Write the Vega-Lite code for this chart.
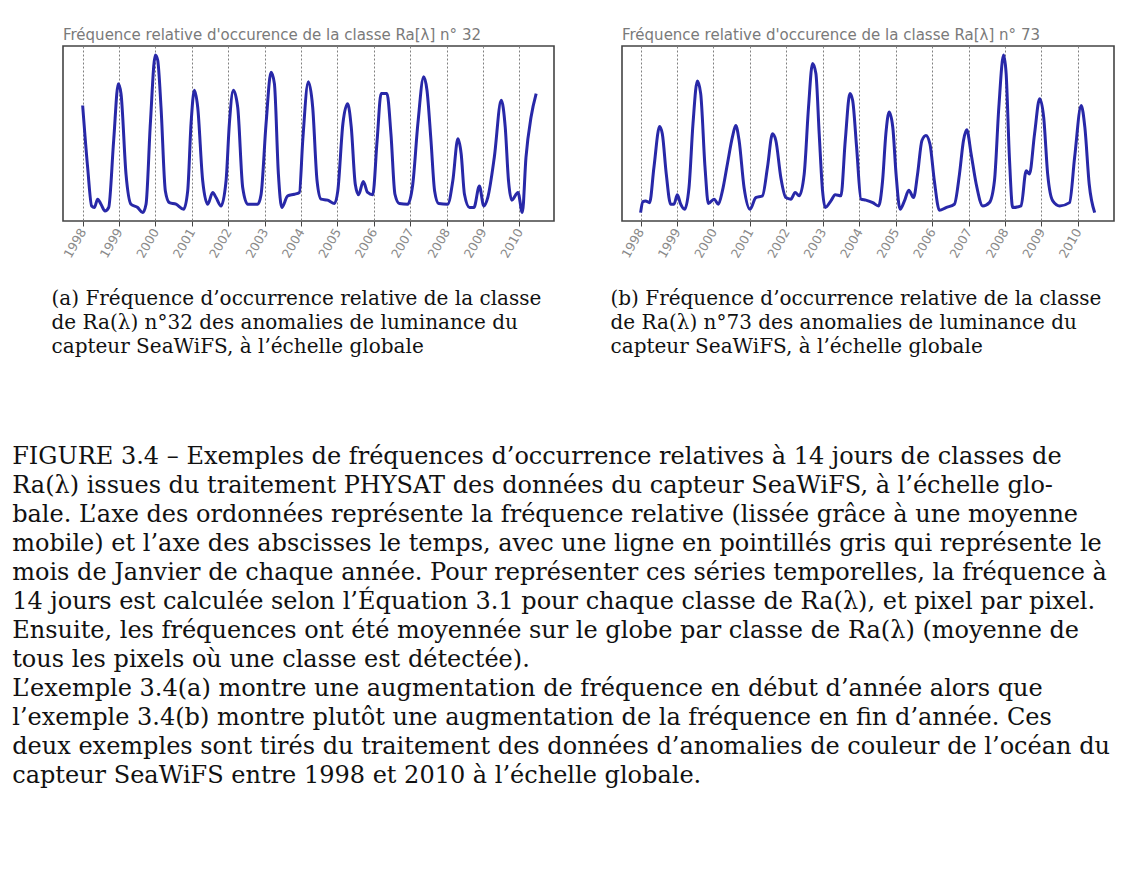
{
  "$schema": "https://vega.github.io/schema/vega-lite/v6.json",
  "background": "white",
  "padding": {"left": 12, "top": 27, "right": 5, "bottom": 5},
  "spacing": 68,
  "bounds": "flush",
  "title": {
    "text": [
      "FIGURE 3.4 – Exemples de fréquences d’occurrence relatives à 14 jours de classes de",
      "Ra(λ) issues du traitement PHYSAT des données du capteur SeaWiFS, à l’échelle glo-",
      "bale. L’axe des ordonnées représente la fréquence relative (lissée grâce à une moyenne",
      "mobile) et l’axe des abscisses le temps, avec une ligne en pointillés gris qui représente le",
      "mois de Janvier de chaque année. Pour représenter ces séries temporelles, la fréquence à",
      "14 jours est calculée selon l’Équation 3.1 pour chaque classe de Ra(λ), et pixel par pixel.",
      "Ensuite, les fréquences ont été moyennée sur le globe par classe de Ra(λ) (moyenne de",
      "tous les pixels où une classe est détectée).",
      "L’exemple 3.4(a) montre une augmentation de fréquence en début d’année alors que",
      "l’exemple 3.4(b) montre plutôt une augmentation de la fréquence en fin d’année. Ces",
      "deux exemples sont tirés du traitement des données d’anomalies de couleur de l’océan du",
      "capteur SeaWiFS entre 1998 et 2010 à l’échelle globale."
    ],
    "orient": "bottom",
    "anchor": "start",
    "font": "DejaVu Serif",
    "fontSize": 24,
    "fontWeight": "normal",
    "color": "#111111",
    "lineHeight": 29,
    "offset": 88,
    "dx": -38
  },
  "datasets": {
    "a": [
      {"t": 1998.0, "v": 66}, {"t": 1998.137, "v": 30.6}, {"t": 1998.247, "v": 8.6}, {"t": 1998.321, "v": 7.7},
      {"t": 1998.412, "v": 12.5}, {"t": 1998.504, "v": 9.6}, {"t": 1998.614, "v": 5.7}, {"t": 1998.715, "v": 7.7},
      {"t": 1998.852, "v": 46}, {"t": 1998.98, "v": 78.5}, {"t": 1999.054, "v": 72.8}, {"t": 1999.191, "v": 26.8},
      {"t": 1999.328, "v": 9.6}, {"t": 1999.512, "v": 7.7}, {"t": 1999.649, "v": 4.8}, {"t": 1999.741, "v": 9.6},
      {"t": 1999.86, "v": 55.6}, {"t": 1999.997, "v": 94.8}, {"t": 2000.061, "v": 92}, {"t": 2000.153, "v": 65},
      {"t": 2000.272, "v": 17.2}, {"t": 2000.382, "v": 10.5}, {"t": 2000.565, "v": 9.6}, {"t": 2000.776, "v": 6.7},
      {"t": 2000.886, "v": 17.2}, {"t": 2000.978, "v": 55.6}, {"t": 2001.069, "v": 74.7}, {"t": 2001.161, "v": 65},
      {"t": 2001.298, "v": 23}, {"t": 2001.436, "v": 9.6}, {"t": 2001.573, "v": 16.3}, {"t": 2001.665, "v": 13.4},
      {"t": 2001.802, "v": 8.6}, {"t": 2001.94, "v": 23}, {"t": 2002.031, "v": 55.6}, {"t": 2002.141, "v": 74.7},
      {"t": 2002.26, "v": 65}, {"t": 2002.398, "v": 19}, {"t": 2002.535, "v": 9.6}, {"t": 2002.81, "v": 9.6},
      {"t": 2002.901, "v": 15}, {"t": 2003.039, "v": 55.6}, {"t": 2003.176, "v": 85}, {"t": 2003.268, "v": 78.5},
      {"t": 2003.378, "v": 26.8}, {"t": 2003.47, "v": 7.7}, {"t": 2003.634, "v": 14.4}, {"t": 2003.818, "v": 15.3},
      {"t": 2003.955, "v": 16.3}, {"t": 2004.047, "v": 46}, {"t": 2004.2, "v": 79.5}, {"t": 2004.32, "v": 65},
      {"t": 2004.44, "v": 23}, {"t": 2004.55, "v": 12.5}, {"t": 2004.73, "v": 11.9}, {"t": 2004.92, "v": 10},
      {"t": 2005.01, "v": 17.2}, {"t": 2005.15, "v": 55.6}, {"t": 2005.28, "v": 67}, {"t": 2005.38, "v": 53.6},
      {"t": 2005.49, "v": 21}, {"t": 2005.58, "v": 15}, {"t": 2005.71, "v": 22.6}, {"t": 2005.83, "v": 16.3},
      {"t": 2005.97, "v": 15}, {"t": 2006.09, "v": 46}, {"t": 2006.2, "v": 72.8}, {"t": 2006.36, "v": 72.8},
      {"t": 2006.47, "v": 49.8}, {"t": 2006.58, "v": 15.3}, {"t": 2006.7, "v": 10}, {"t": 2006.93, "v": 9.6},
      {"t": 2007.07, "v": 21}, {"t": 2007.21, "v": 55.6}, {"t": 2007.37, "v": 82.4}, {"t": 2007.46, "v": 74.7},
      {"t": 2007.57, "v": 46}, {"t": 2007.67, "v": 17.2}, {"t": 2007.78, "v": 10}, {"t": 2008.03, "v": 9.6},
      {"t": 2008.17, "v": 23}, {"t": 2008.31, "v": 47}, {"t": 2008.4, "v": 38.3}, {"t": 2008.49, "v": 15.3},
      {"t": 2008.63, "v": 7.7}, {"t": 2008.75, "v": 7.7}, {"t": 2008.9, "v": 20}, {"t": 2009.02, "v": 8.6},
      {"t": 2009.13, "v": 13.4}, {"t": 2009.31, "v": 36.4}, {"t": 2009.5, "v": 69}, {"t": 2009.61, "v": 53.6},
      {"t": 2009.7, "v": 23}, {"t": 2009.79, "v": 11.9}, {"t": 2009.96, "v": 16.3}, {"t": 2010.08, "v": 4.8},
      {"t": 2010.18, "v": 36.4}, {"t": 2010.32, "v": 59.4}, {"t": 2010.46, "v": 72.8}
    ],
    "b": [
      {"t": 1998.0, "v": 4.8}, {"t": 1998.064, "v": 11.1}, {"t": 1998.137, "v": 11.5}, {"t": 1998.247, "v": 10.5},
      {"t": 1998.366, "v": 30.6}, {"t": 1998.522, "v": 54}, {"t": 1998.596, "v": 49.8}, {"t": 1998.705, "v": 26.8},
      {"t": 1998.825, "v": 9.6}, {"t": 1998.916, "v": 9.6}, {"t": 1999.008, "v": 15}, {"t": 1999.1, "v": 9.6},
      {"t": 1999.209, "v": 6.7}, {"t": 1999.328, "v": 19}, {"t": 1999.438, "v": 55.6}, {"t": 1999.557, "v": 80},
      {"t": 1999.649, "v": 72.8}, {"t": 1999.768, "v": 30.6}, {"t": 1999.86, "v": 10}, {"t": 2000.016, "v": 12.5},
      {"t": 2000.135, "v": 9.6}, {"t": 2000.245, "v": 17.2}, {"t": 2000.382, "v": 32.6}, {"t": 2000.519, "v": 47.9},
      {"t": 2000.611, "v": 54.6}, {"t": 2000.703, "v": 46}, {"t": 2000.84, "v": 19}, {"t": 2001.005, "v": 6.7},
      {"t": 2001.161, "v": 13.4}, {"t": 2001.344, "v": 14.4}, {"t": 2001.481, "v": 30.6}, {"t": 2001.619, "v": 49.8},
      {"t": 2001.711, "v": 46}, {"t": 2001.848, "v": 24.9}, {"t": 2001.985, "v": 13.4}, {"t": 2002.123, "v": 12.5},
      {"t": 2002.242, "v": 16.3}, {"t": 2002.352, "v": 14.4}, {"t": 2002.489, "v": 26.8}, {"t": 2002.608, "v": 65},
      {"t": 2002.718, "v": 90}, {"t": 2002.81, "v": 84.3}, {"t": 2002.901, "v": 49.8}, {"t": 2002.993, "v": 17.2},
      {"t": 2003.066, "v": 7.7}, {"t": 2003.222, "v": 11.5}, {"t": 2003.341, "v": 15}, {"t": 2003.497, "v": 14.4},
      {"t": 2003.616, "v": 46}, {"t": 2003.744, "v": 72.8}, {"t": 2003.818, "v": 69}, {"t": 2003.928, "v": 42},
      {"t": 2004.047, "v": 12.5}, {"t": 2004.18, "v": 11.9}, {"t": 2004.37, "v": 10.5}, {"t": 2004.53, "v": 8.6},
      {"t": 2004.64, "v": 23}, {"t": 2004.73, "v": 49.8}, {"t": 2004.82, "v": 62.3}, {"t": 2004.92, "v": 53.6},
      {"t": 2005.01, "v": 26.8}, {"t": 2005.12, "v": 6.7}, {"t": 2005.24, "v": 11.5}, {"t": 2005.36, "v": 17.6},
      {"t": 2005.49, "v": 13.4}, {"t": 2005.6, "v": 26.8}, {"t": 2005.72, "v": 46}, {"t": 2005.83, "v": 48.9},
      {"t": 2005.94, "v": 44}, {"t": 2006.06, "v": 23}, {"t": 2006.2, "v": 6.1}, {"t": 2006.38, "v": 7.7},
      {"t": 2006.61, "v": 9.6}, {"t": 2006.75, "v": 26.8}, {"t": 2006.86, "v": 46}, {"t": 2006.95, "v": 52.1},
      {"t": 2007.07, "v": 38.3}, {"t": 2007.21, "v": 21}, {"t": 2007.39, "v": 8.6}, {"t": 2007.57, "v": 10.5},
      {"t": 2007.71, "v": 23}, {"t": 2007.83, "v": 65}, {"t": 2007.96, "v": 94.8}, {"t": 2008.03, "v": 84.3},
      {"t": 2008.12, "v": 36.4}, {"t": 2008.21, "v": 7.7}, {"t": 2008.44, "v": 8.6}, {"t": 2008.58, "v": 28.7},
      {"t": 2008.67, "v": 26.8}, {"t": 2008.81, "v": 49.8}, {"t": 2008.95, "v": 69.9}, {"t": 2009.06, "v": 59.4},
      {"t": 2009.17, "v": 26.8}, {"t": 2009.31, "v": 11.5}, {"t": 2009.5, "v": 8.6}, {"t": 2009.77, "v": 10.5},
      {"t": 2009.91, "v": 36.4}, {"t": 2010.09, "v": 66}, {"t": 2010.19, "v": 53.6}, {"t": 2010.31, "v": 21},
      {"t": 2010.46, "v": 4.8}
    ]
  },
  "hconcat": [
    {
      "width": 491,
      "height": 175,
      "title": {"text": "Fréquence relative d'occurence de la classe Ra[λ] n° 32", "anchor": "start", "frame": "group", "font": "DejaVu Sans", "fontSize": 15, "fontWeight": "normal", "color": "#7a7a7a", "offset": 3},
      "data": {"name": "a"},
      "mark": {"type": "line", "interpolate": "monotone", "color": "#2828a8", "strokeWidth": 3},
      "encoding": {
        "x": {
          "field": "t", "type": "quantitative",
          "scale": {"domain": [1997.46, 2010.95], "nice": false, "zero": false},
          "axis": {
            "values": [1998, 1999, 2000, 2001, 2002, 2003, 2004, 2005, 2006, 2007, 2008, 2009, 2010],
            "format": "d", "grid": true, "gridDash": [2, 2], "gridColor": "#808080", "gridWidth": 1,
            "domain": false, "ticks": true, "tickColor": "#444444", "tickSize": 5,
            "labelAngle": -60, "labelAlign": "right", "labelBaseline": "middle", "labelFont": "DejaVu Sans",
            "labelFontSize": 12.5, "labelColor": "#8a8a8a", "labelPadding": 3, "labelFlush": false, "labelOverlap": false,
            "title": ["(a) Fréquence d’occurrence relative de la classe", "de Ra(λ) n°32 des anomalies de luminance du", "capteur SeaWiFS, à l’échelle globale"],
            "titleFont": "DejaVu Serif", "titleFontSize": 20, "titleFontWeight": "normal", "titleColor": "#111111",
            "titleLineHeight": 24, "titleAnchor": "start", "titleAlign": "left", "titleBaseline": "alphabetic",
            "titleX": -12, "titleY": 83
          }
        },
        "y": {"field": "v", "type": "quantitative", "scale": {"domain": [0, 100], "nice": false}, "axis": null}
      }
    },
    {
      "width": 492,
      "height": 175,
      "title": {"text": "Fréquence relative d'occurence de la classe Ra[λ] n° 73", "anchor": "start", "frame": "group", "font": "DejaVu Sans", "fontSize": 15, "fontWeight": "normal", "color": "#7a7a7a", "offset": 3},
      "data": {"name": "b"},
      "mark": {"type": "line", "interpolate": "monotone", "color": "#2828a8", "strokeWidth": 3},
      "encoding": {
        "x": {
          "field": "t", "type": "quantitative",
          "scale": {"domain": [1997.49, 2010.99], "nice": false, "zero": false},
          "axis": {
            "values": [1998, 1999, 2000, 2001, 2002, 2003, 2004, 2005, 2006, 2007, 2008, 2009, 2010],
            "format": "d", "grid": true, "gridDash": [2, 2], "gridColor": "#808080", "gridWidth": 1,
            "domain": false, "ticks": true, "tickColor": "#444444", "tickSize": 5,
            "labelAngle": -60, "labelAlign": "right", "labelBaseline": "middle", "labelFont": "DejaVu Sans",
            "labelFontSize": 12.5, "labelColor": "#8a8a8a", "labelPadding": 3, "labelFlush": false, "labelOverlap": false,
            "title": ["(b) Fréquence d’occurrence relative de la classe", "de Ra(λ) n°73 des anomalies de luminance du", "capteur SeaWiFS, à l’échelle globale"],
            "titleFont": "DejaVu Serif", "titleFontSize": 20, "titleFontWeight": "normal", "titleColor": "#111111",
            "titleLineHeight": 24, "titleAnchor": "start", "titleAlign": "left", "titleBaseline": "alphabetic",
            "titleX": -12, "titleY": 83
          }
        },
        "y": {"field": "v", "type": "quantitative", "scale": {"domain": [0, 100], "nice": false}, "axis": null}
      }
    }
  ],
  "config": {
    "view": {"stroke": "#444444", "strokeWidth": 1.6}
  }
}
